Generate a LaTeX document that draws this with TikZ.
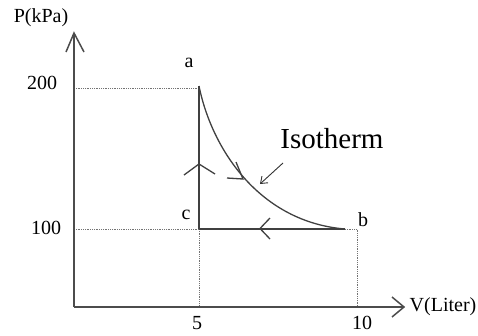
\documentclass[tikz,border=0pt]{standalone}
\usepackage{fontspec}
\setmainfont{Liberation Serif}
\usetikzlibrary{arrows.meta}
\begin{document}
\begin{tikzpicture}[x=1pt,y=-1pt,
  axisline/.style={draw=black!70,line width=1.5pt},
  cycleline/.style={draw=black!75,line width=1.3pt},
  chevron/.style={draw=black!75,line width=1.3pt,line join=miter},
  guide/.style={draw=black!55,line width=0.8pt,densely dotted},
  lbl/.style={font=\fontsize{20}{20}\selectfont,inner sep=0pt}]
\useasboundingbox (0,0) rectangle (478,335);
% key points
\coordinate (O) at (74,307);
\coordinate (ytip) at (74,33);
\coordinate (xtip) at (404,307);
\coordinate (a) at (199,86);
\coordinate (c) at (199,229);
\coordinate (bend) at (345,229);
\coordinate (b) at (357,229);
\coordinate (y200) at (74,88);
\coordinate (y100) at (74,229);
\coordinate (x5) at (199,307);
\coordinate (x10) at (357,307);
\coordinate (a200) at (199,88);
% guides
\draw[guide] (y200) -- (a200);
\draw[guide] (y100) -- (c);
\draw[guide] (c) -- (x5);
\draw[guide] (bend) -- (b) -- (x10);
% axes
\draw[axisline] (O) -- (ytip);
\draw[axisline] (O) -- (xtip);
\draw[axisline] (66,52) -- (ytip) -- (84,52);
\draw[axisline] (392,297) -- (xtip) -- (392,317);
% cycle
\draw[cycleline] (c) -- (a);
\draw[cycleline] (bend) -- (c);
\draw[cycleline] (a) .. controls (212,150) and (260,222) .. (bend);
% direction marks
\draw[chevron] (184,175) -- (199,164) -- (215,174);
\draw[chevron] (270,218) -- (260,228.5) -- (270,239);
\draw[chevron] (227,178) -- (243,179) -- (236,162);
% labels
\node[lbl] (Plab) at (41,18) {P(kPa)};
\node[lbl] (l200) at (42,83) {200};
\node[lbl] (l100) at (46,228) {100};
\node[lbl] (la) at (189,63) {a};
\node[lbl] (lc) at (186,215) {c};
\node[lbl] (lb) at (363,220) {b};
\node[lbl] (l5) at (197,323) {5};
\node[lbl] (l10) at (362,323) {10};
\node[lbl] (Vlab) at (443,307) {V(Liter)};
\node[font=\fontsize{29}{29}\selectfont,inner sep=0pt] (iso) at (332,139) {Isotherm};
\coordinate (isoS) at (283,163);
\coordinate (isoE) at (260,184);
\draw[line width=0.9pt,draw=black!80,-{Straight Barb[length=6pt,width=9pt]}] (isoS) -- (isoE);
\end{tikzpicture}
\end{document}
